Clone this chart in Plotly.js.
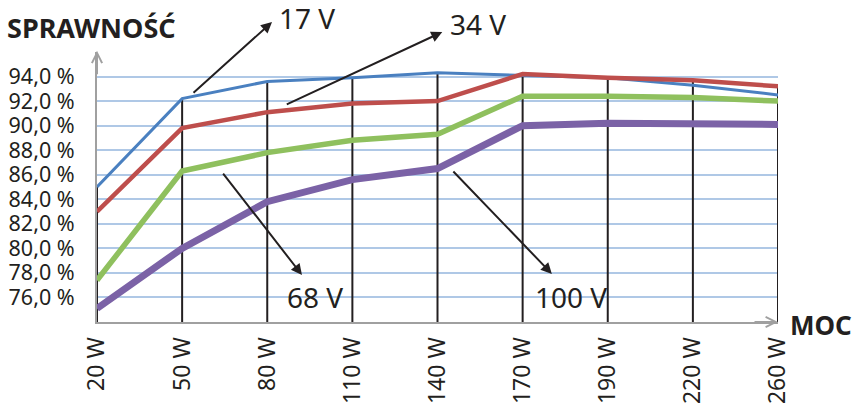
<!DOCTYPE html>
<html><head><meta charset="utf-8">
<script src="https://cdn.plot.ly/plotly-3.0.1.min.js"></script>
<style>html,body{margin:0;padding:0;background:#fff}#chart{width:858px;height:408px}</style>
</head><body><div id="chart"></div>
<script>
const categories = ["20 W","50 W","80 W","110 W","140 W","170 W","190 W","220 W","260 W"];
const v17  = [85.0, 92.2, 93.6, 93.9, 94.3, 94.1, 93.9, 93.3, 92.5];
const v34  = [83.0, 89.8, 91.1, 91.8, 92.0, 94.2, 93.9, 93.7, 93.2];
const v68  = [77.4, 86.3, 87.8, 88.8, 89.3, 92.4, 92.4, 92.3, 92.0];
const v100 = [75.1, 80.0, 83.8, 85.6, 86.5, 90.0, 90.2, 90.2, 90.1];
const yTicks = [76,78,80,82,84,86,88,90,92,94,96];
const yTickText = yTicks.map(v => v === 96 ? "" : v.toFixed(1).replace(".", ",") + " %");
const yMin = 74, yMax = 96;

const FONT = "Noto Sans, DejaVu Sans, sans-serif";
const dropX = [], dropY = [];
categories.forEach((c, i) => {
  const m = Math.max(v17[i], v34[i], v68[i], v100[i]);
  dropX.push(c, c, null); dropY.push(yMin, m, null);
});

const traces = [
  {x: dropX, y: dropY, mode: "lines", line: {color: "#231F20", width: 2}, hoverinfo: "skip", cliponaxis: false},
  {x: categories, y: v17,  mode: "lines", name: "17 V",  line: {color: "#4A80C0", width: 3}},
  {x: categories, y: v34,  mode: "lines", name: "34 V",  line: {color: "#BE4E4C", width: 4.5}},
  {x: categories, y: v68,  mode: "lines", name: "68 V",  line: {color: "#8FC05E", width: 5.5}},
  {x: categories, y: v100, mode: "lines", name: "100 V", line: {color: "#7B62A6", width: 7}}
];

const arrowAnn = (x, y, ax, ay) => ({xref: "paper", yref: "paper", x, y, ax, ay, text: "", showarrow: true,
  arrowhead: 2, arrowsize: 1.1, arrowwidth: 2, arrowcolor: "#231F20"});
const textAnn = (x, y, t, size, bold) => ({xref: "paper", yref: "paper", x, y, text: bold ? "<b>" + t + "</b>" : t,
  showarrow: false, font: {family: FONT, size, color: "#231F20"}, xanchor: "center", yanchor: "middle"});

const layout = {
  width: 858, height: 408,
  margin: {l: 97, r: 80, t: 52, b: 86},
  paper_bgcolor: "#fff", plot_bgcolor: "#fff",
  showlegend: false,
  font: {family: FONT, color: "#231F20"},
  xaxis: {type: "category", range: [0, 8], showgrid: false, zeroline: false,
    showline: true, linecolor: "#A0A0A0", linewidth: 2, ticks: "", tickangle: -90,
    tickfont: {family: FONT, size: 23, color: "#231F20"}, ticklabelstandoff: 4},
  yaxis: {range: [yMin, yMax], tickvals: yTicks, ticktext: yTickText, showgrid: true,
    gridcolor: "#AFC8E6", gridwidth: 2, zeroline: false, showline: true, linecolor: "#A0A0A0", linewidth: 2,
    ticks: "", tickfont: {family: FONT, size: 21.5, color: "#231F20"}, ticklabelstandoff: 16},
  annotations: [
    {xref: "paper", yref: "paper", x: 1.0, y: 0, ax: -25, ay: 0, text: "", showarrow: true, arrowhead: 5, arrowsize: 1, arrowwidth: 2, arrowcolor: "#A0A0A0"},
    {xref: "paper", yref: "paper", x: 0, y: 1.005, ax: 0, ay: 25, text: "", showarrow: true, arrowhead: 5, arrowsize: 1, arrowwidth: 2, arrowcolor: "#A0A0A0"},
    arrowAnn(0.257, 1.111, -80, 72),
    arrowAnn(0.507, 1.074, -157, 73),
    arrowAnn(0.301, 0.174, -80, -103),
    arrowAnn(0.668, 0.178, -100, -104),
    textAnn(0.308, 1.126, "17 V", 28, false),
    textAnn(0.559, 1.104, "34 V", 28, false),
    textAnn(0.320, 0.093, "68 V", 28, false),
    textAnn(0.696, 0.093, "100 V", 28, false),
    textAnn(-0.0088, 1.089, "SPRAWNOŚĆ", 27, true),
    textAnn(1.063, -0.011, "MOC", 26, true)
  ]
};
Plotly.newPlot("chart", traces, layout, {displayModeBar: false, staticPlot: true});
</script></body></html>
